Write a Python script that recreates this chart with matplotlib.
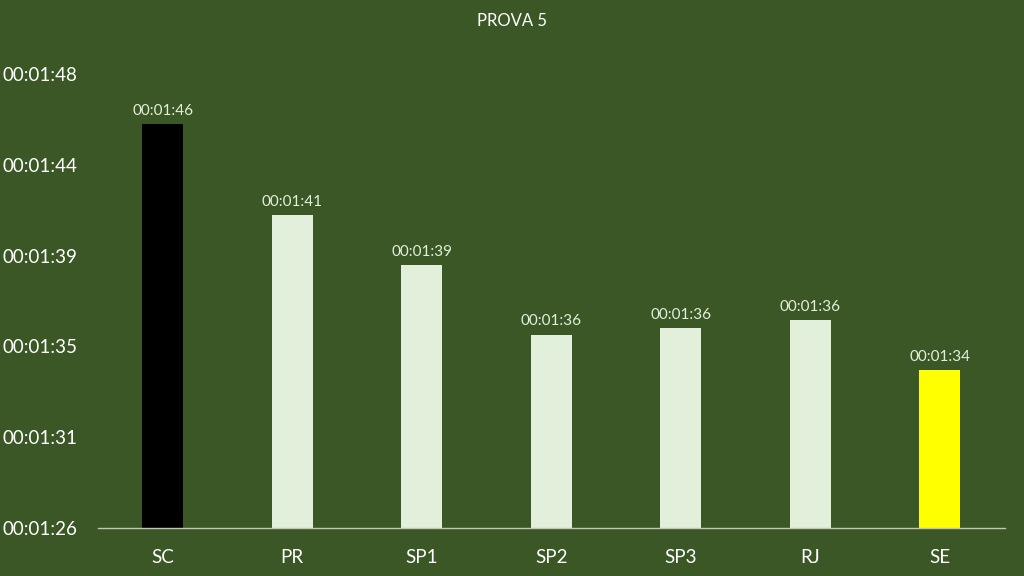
import matplotlib.pyplot as plt
from matplotlib.ticker import FuncFormatter

# times in seconds
states = ['SC', 'PR', 'SP1', 'SP2', 'SP3', 'RJ', 'SE']
times = [105.6, 101.3, 98.9, 95.6, 95.9, 96.3, 93.9]
bar_colors = ['#000000', '#E2EFDA', '#E2EFDA', '#E2EFDA', '#E2EFDA', '#E2EFDA', '#FFFF00']

y_min = 86.4
y_max = 108.0
y_step = 4.32

bg = '#3B5726'
txt = '#E2EFDA'

plt.rcParams['font.family'] = ['Lato', 'DejaVu Sans']


def fmt_time(s, pos=None):
    s = int(round(s))
    return '%02d:%02d:%02d' % (s // 3600, (s // 60) % 60, s % 60)


fig = plt.figure(figsize=(10.24, 5.76), dpi=100, facecolor=bg)
ax = fig.add_axes([0.0957, 0.0833, 0.8853, 0.7882], facecolor=bg)

x = range(len(states))
bars = ax.bar(x, times, width=0.316, color=bar_colors, zorder=2)

for b, t in zip(bars, times):
    ax.text(b.get_x() + b.get_width() / 2, t + 0.3, fmt_time(t),
            ha='center', va='bottom', color=txt, fontsize=11)

ax.set_xlim(-0.5, len(states) - 0.5)
ax.set_ylim(y_min, y_max)
ticks = [y_min + i * y_step for i in range(6)]
ax.set_yticks(ticks)
ax.yaxis.set_major_formatter(FuncFormatter(fmt_time))
ax.set_xticks(list(x))
ax.set_xticklabels(states)

ax.tick_params(axis='y', length=0, pad=15, labelsize=13.5, labelcolor='white')
ax.tick_params(axis='x', length=0, pad=15, labelsize=13.5, labelcolor='white')

for side in ['top', 'right', 'left']:
    ax.spines[side].set_visible(False)
ax.spines['bottom'].set_color('#BFC9B5')
ax.spines['bottom'].set_linewidth(1)

fig.text(0.5, 0.963, 'PROVA 5', ha='center', va='center', color='white', fontsize=12)

fig.savefig('out.png', dpi=100, facecolor=bg)
